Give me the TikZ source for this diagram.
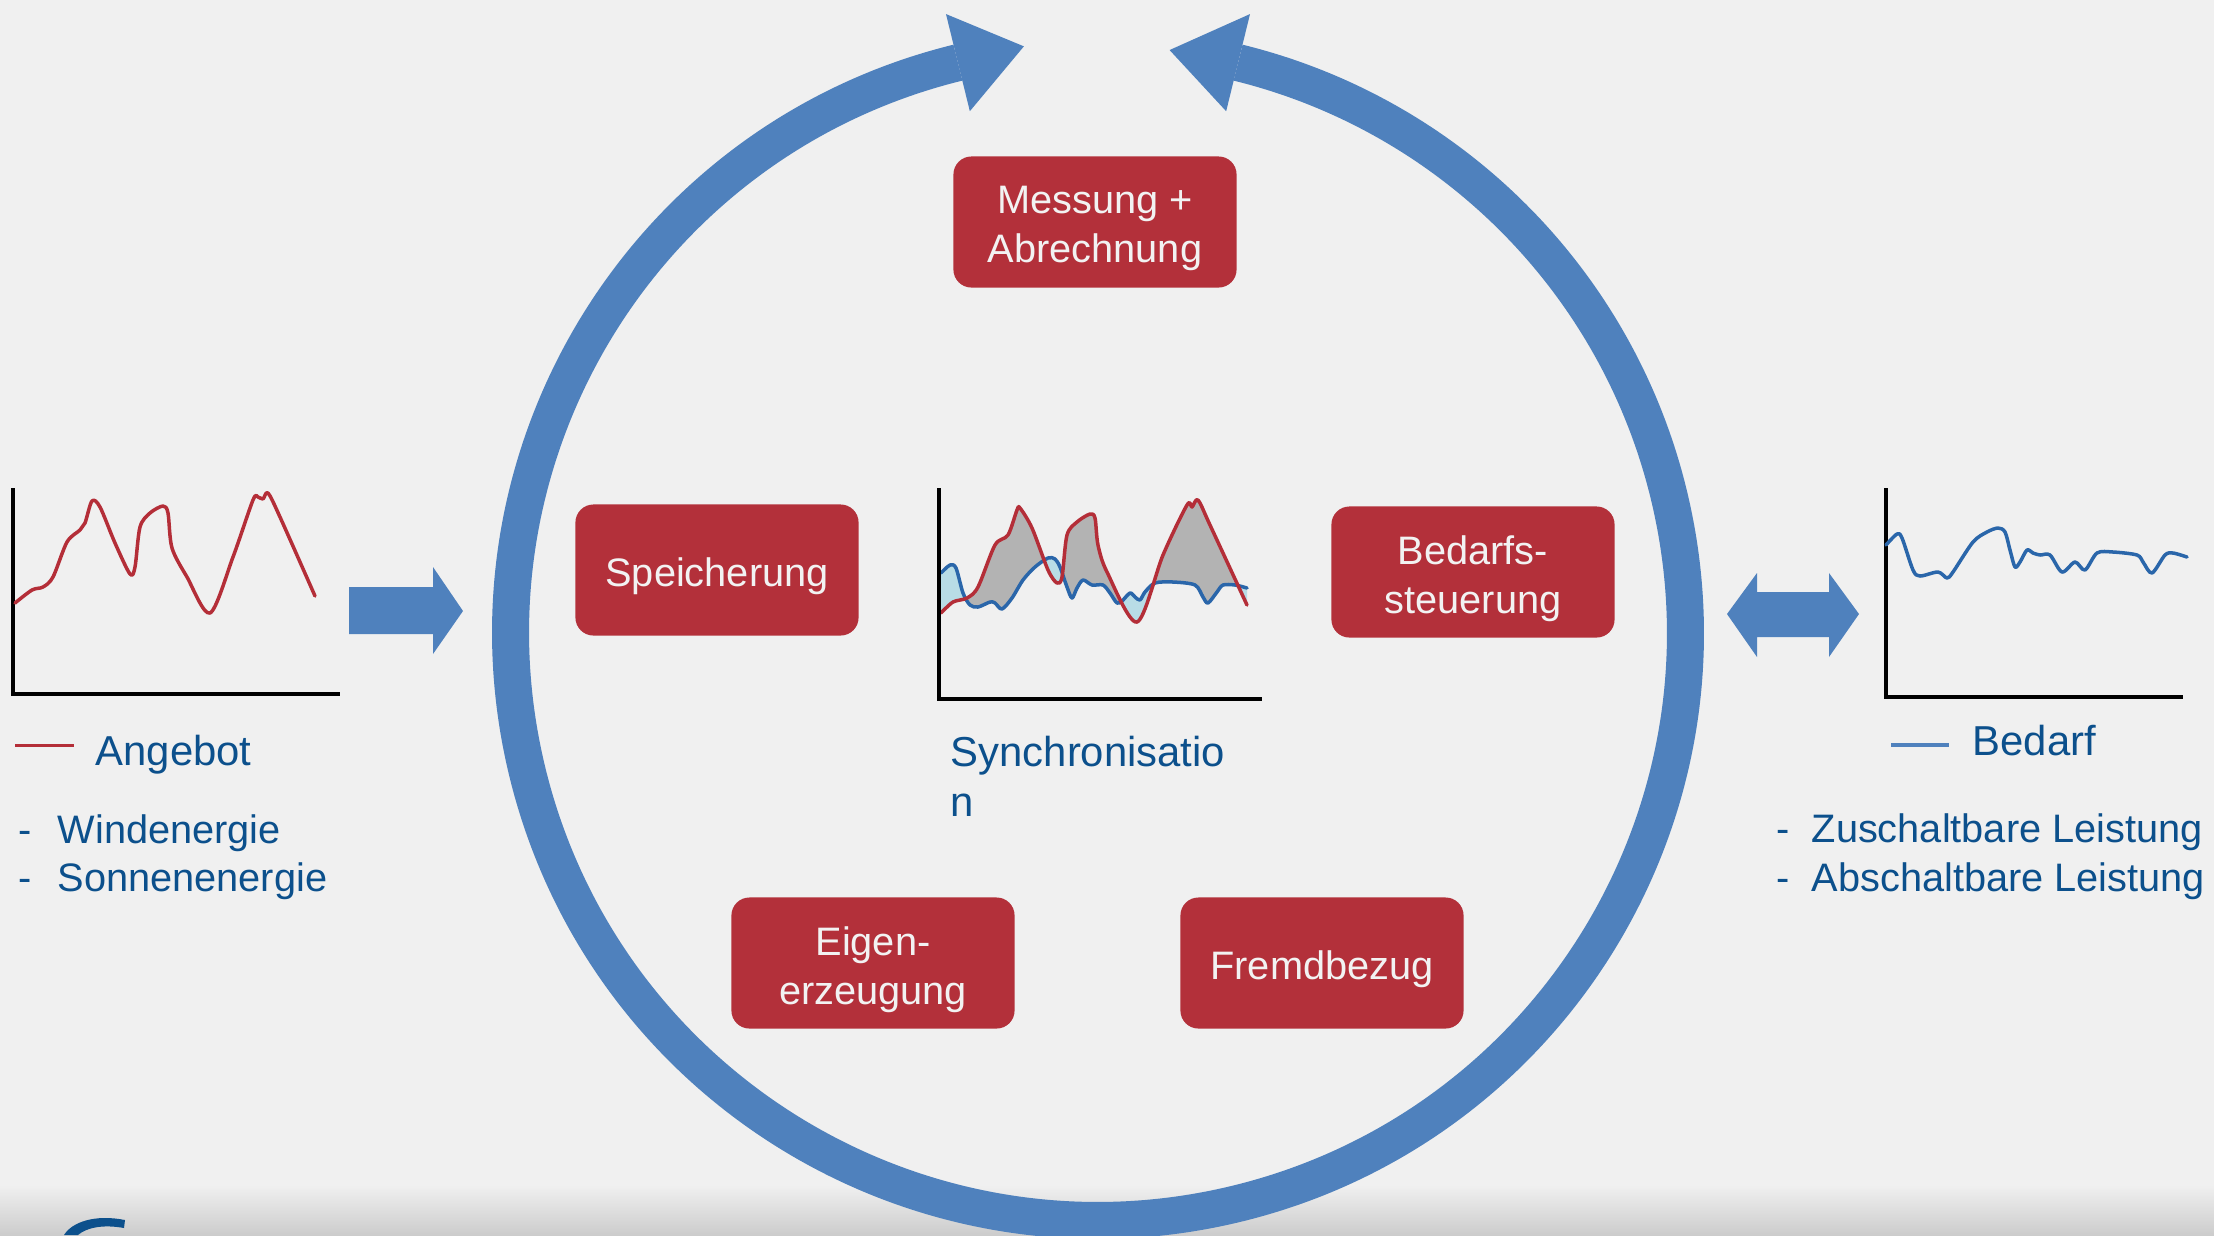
\documentclass[tikz,border=0pt]{standalone}
\usepackage{fontspec}
\setmainfont{Liberation Sans}
\usetikzlibrary{calc}

\definecolor{bgcol}{RGB}{240,240,240}
\definecolor{shadegray}{RGB}{204,204,204}
\definecolor{ringblue}{RGB}{79,129,189}
\definecolor{boxred}{RGB}{179,48,58}
\definecolor{boxtext}{RGB}{242,242,242}
\definecolor{curvered}{RGB}{180,46,56}
\definecolor{curveblue}{RGB}{42,102,170}
\definecolor{txtblue}{RGB}{12,80,140}
\definecolor{surplus}{RGB}{179,179,179}
\definecolor{deficit}{RGB}{184,220,230}

\tikzset{
	redbox/.style={fill=boxred, rounded corners=0.18cm, minimum width=2.83cm, minimum height=1.31cm, inner sep=0pt},
	boxlabel/.style={text=boxtext, align=center, inner sep=0pt, yshift=-0.065cm},
	bluelabel/.style={text=txtblue, inner sep=0pt, anchor=base west},
	legendlabel/.style={bluelabel, font=\fontsize{11.9}{14.2}\selectfont},
	chartaxis/.style={line width=0.035cm, black},
	curve/.style={line width=0.035cm, line cap=round, line join=round},
}

\newcommand{\syncred}{plot[smooth] coordinates {(941,613) (953,602) (967,598) (978,587) (995,545) (1008,535) (1017,510) (1020,508) (1032,528) (1048,570) (1057,583) (1062,577) (1067,535) (1077,522) (1090,514) (1095,518) (1098,545) (1107,572) (1137,622) (1163,555) (1187,505) (1192,507) (1198,500) (1210,525) (1247,605)}}
\newcommand{\syncblue}{plot[smooth] coordinates {(941,573) (950,565) (956,568) (963,593) (970,605) (978,607) (990,602) (995,603) (1002,609) (1012,598) (1023,580) (1035,567) (1048,558) (1055,559) (1060,567) (1067,587) (1072,598) (1077,588) (1083,580) (1092,585) (1103,585) (1110,593) (1117,603) (1122,601) (1130,593) (1135,597) (1140,600) (1145,592) (1155,583) (1173,582) (1195,585) (1203,597) (1208,603) (1217,592) (1223,585) (1235,585) (1247,588)}}

\begin{document}
\begin{tikzpicture}[x=0.01cm, y=-0.01cm, font=\fontsize{11.3}{13.8}\selectfont]
	%%%%% START %%%%%
	
	\useasboundingbox (0,0) rectangle (2214,1235);
	\fill[bgcol] (0,0) rectangle (2214,1235);
	\shade[top color=bgcol, bottom color=shadegray] (0,1185) rectangle (2214,1235);
	
	% logo rest bottom left
	\fill[txtblue] (64,1235) .. controls (72,1222) and (95,1214) .. (125,1220) -- (124,1228) .. controls (102,1224) and (86,1228) .. (78,1235) -- cycle;
	
	% ring with two heads
	\coordinate (C) at (1098,633);
	\draw[ringblue, line width=0.37cm] (C) ++(103.8:5.87cm) arc[start angle=103.8, end angle=436.2, radius=5.87cm];
	\fill[ringblue] ($(C)+(97.2:5.91cm)$) -- ($(C)+(103.8:6.37cm)$) -- ($(C)+(103.8:5.37cm)$) -- cycle;
	\fill[ringblue] ($(C)+(83.0:5.87cm)$) -- ($(C)+(76.2:6.37cm)$) -- ($(C)+(76.2:5.37cm)$) -- cycle;
	
	% block arrows
	\fill[ringblue] (349,587) -- (433,587) -- (433,567) -- (463,611) -- (433,654) -- (433,634) -- (349,634) -- cycle;
	\fill[ringblue] (1727,614) -- (1757,573) -- (1757,592) -- (1829,592) -- (1829,573) -- (1859,614) -- (1829,657) -- (1829,637) -- (1757,637) -- (1757,657) -- cycle;
	
	% boxes
	\node[redbox, label={[boxlabel]center:{Messung +\\Abrechnung}}] (messung) at (1095,222) {};
	\node[redbox, label={[boxlabel]center:Speicherung}] (speicher) at (717,570) {};
	\node[redbox, label={[boxlabel]center:{Bedarfs-\\steuerung}}] (bedarfs) at (1473,572) {};
	\node[redbox, label={[boxlabel]center:{Eigen-\\erzeugung}}] (eigen) at (873,963) {};
	\node[redbox, label={[boxlabel]center:Fremdbezug}] (fremd) at (1322,963) {};
	
	% Angebot chart
	\draw[chartaxis] (13,488) |- (340,694);
	\draw[curve, curvered] plot[smooth] coordinates {(15,603) (32,590) (43,587) (53,577) (67,542) (80,530) (85,523) (92,501) (100,507) (115,543) (130,574) (135,567) (140,527) (150,513) (163,506) (168,513) (172,548) (187,577) (210,613) (233,557) (253,500) (258,497) (263,499) (268,493) (280,517) (315,596)};
	\draw[curvered, line width=0.03cm] (15,745) -- (74,745);
	\node[legendlabel] (angebot) at (95,765) {Angebot};
	\node[bluelabel] (wind) at (18,843) {\makebox[0.39cm][l]{-}Windenergie};
	\node[bluelabel] (sonne) at (18,891) {\makebox[0.39cm][l]{-}Sonnenenergie};
	
	% Synchronisation chart
	\begin{scope}
		\clip \syncred -- (1247,700) -- (941,700) -- cycle;
		\fill[surplus] \syncblue -- (1247,480) -- (941,480) -- cycle;
	\end{scope}
	\begin{scope}
		\clip \syncblue -- (1247,700) -- (941,700) -- cycle;
		\fill[deficit] \syncred -- (1247,480) -- (941,480) -- cycle;
	\end{scope}
	\draw[curve, curveblue] \syncblue;
	\draw[curve, curvered] \syncred;
	\draw[chartaxis] (939,488) |- (1262,699);
	\node[legendlabel, align=left] (sync) at (950,816) {Synchronisatio\\n};
	
	% Bedarf chart
	\draw[chartaxis] (1886,488) |- (2183,697);
	\draw[curve, curveblue] plot[smooth] coordinates {(1886,545) (1897,534) (1902,538) (1913,570) (1920,576) (1938,572) (1947,578) (1953,572) (1973,542) (1987,532) (1998,528) (2005,532) (2010,550) (2015,567) (2020,562) (2027,550) (2033,553) (2040,555) (2050,555) (2062,572) (2075,562) (2085,570) (2097,553) (2113,552) (2137,555) (2143,562) (2152,573) (2165,555) (2173,553) (2187,557)};
	\draw[ringblue, line width=0.04cm] (1891,745) -- (1949,745);
	\node[legendlabel] (bedarf) at (1972,755) {Bedarf};
	\node[bluelabel] (zu) at (1776,842) {\makebox[0.35cm][l]{-}Zuschaltbare Leistung};
	\node[bluelabel] (ab) at (1776,891) {\makebox[0.35cm][l]{-}Abschaltbare Leistung};
	
	%%%%% END %%%%%
\end{tikzpicture}
\end{document}
